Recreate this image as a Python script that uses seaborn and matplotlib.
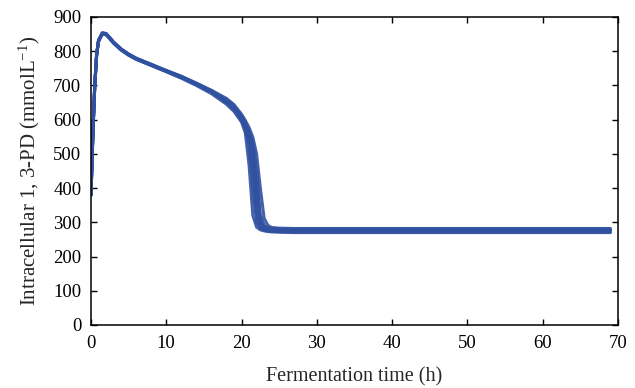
import matplotlib
matplotlib.use("Agg")
import matplotlib.pyplot as plt
import seaborn as sns
import pandas as pd

# Shared time grid (h)
time_h = [0, 0.25, 0.5, 0.75, 1.0, 1.5, 2.0, 2.5, 3, 4, 5, 6, 8, 10, 12, 14, 16, 18, 19,
          20, 20.5, 21, 21.5, 22, 22.5, 23, 23.5, 24, 25, 27, 30, 40, 55, 69]

# Several simulated runs of intracellular 1,3-PD (mmol/L)
run_a = [380, 560, 700, 790, 830, 852, 850, 838, 825, 805, 790, 778, 760, 742, 724, 703, 680, 650, 630,
         598, 572, 525, 400, 300, 282, 277, 275, 274, 273, 272, 272, 272, 272, 272]
run_b = [380, 562, 702, 792, 832, 854, 852, 840, 827, 807, 792, 780, 762, 744, 727, 706, 684, 655, 636,
         604, 584, 552, 495, 360, 296, 284, 280, 279, 278, 278, 278, 278, 278, 278]
run_c = [380, 558, 699, 789, 829, 851, 849, 837, 824, 804, 789, 777, 759, 741, 723, 703, 682, 657, 639,
         610, 592, 567, 533, 450, 322, 291, 284, 281, 280, 280, 280, 280, 280, 280]
run_d = [380, 561, 701, 791, 831, 853, 851, 839, 826, 806, 791, 779, 761, 743, 726, 707, 686, 662, 644,
         616, 598, 577, 549, 500, 400, 312, 291, 285, 283, 282, 282, 282, 282, 282]
run_e = [380, 557, 698, 788, 828, 850, 848, 836, 823, 803, 788, 776, 758, 740, 721, 700, 676, 645, 624,
         593, 562, 468, 320, 286, 278, 275, 273, 272, 271, 270, 270, 270, 270, 270]
run_f = [380, 559, 700, 790, 830, 852, 850, 838, 825, 805, 790, 778, 760, 742, 725, 704, 681, 652, 633,
         602, 579, 543, 450, 320, 288, 280, 278, 277, 276, 276, 276, 276, 276, 276]
run_g = [380, 560, 701, 791, 831, 853, 851, 839, 826, 806, 791, 779, 761, 743, 725, 705, 683, 658, 640,
         607, 588, 560, 520, 410, 305, 287, 282, 280, 279, 279, 279, 279, 279, 279]

runs = {"a": run_a, "b": run_b, "c": run_c, "d": run_d, "e": run_e, "f": run_f, "g": run_g}

x_ticks = [0, 10, 20, 30, 40, 50, 60, 70]
y_ticks = [0, 100, 200, 300, 400, 500, 600, 700, 800, 900]

rows = []
for name, vals in runs.items():
    for t, v in zip(time_h, vals):
        rows.append({"run": name, "time": t, "pd": v})
df = pd.DataFrame(rows)

sns.set_style("ticks")
plt.rcParams["font.family"] = ["Liberation Serif", "DejaVu Serif"]
plt.rcParams["mathtext.fontset"] = "custom"
plt.rcParams["mathtext.rm"] = "Liberation Serif"
plt.rcParams["mathtext.it"] = "Liberation Serif:italic"

fig = plt.figure(figsize=(6.35, 3.88), dpi=100)
ax = fig.add_axes([0.1433, 0.1624, 0.8297, 0.7938])

sns.lineplot(data=df, x="time", y="pd", units="run", estimator=None,
             color="#3050a0", linewidth=2.2, alpha=0.9, ax=ax, legend=False)

ax.set_xlim(0, 70)
ax.set_ylim(0, 900)
ax.set_xticks(x_ticks)
ax.set_yticks(y_ticks)
ax.tick_params(direction="in", top=True, right=True, length=4, width=1,
               labelsize=13.5, colors="black", pad=7)
for s in ax.spines.values():
    s.set_linewidth(1.1)
    s.set_color("black")
ax.set_xlabel("Fermentation time (h)", fontsize=14.5, labelpad=11)
ax.set_ylabel(r"Intracellular 1, 3-PD (mmolL$^{-1}$)", fontsize=15, labelpad=8)

fig.savefig("out.png", dpi=100)
